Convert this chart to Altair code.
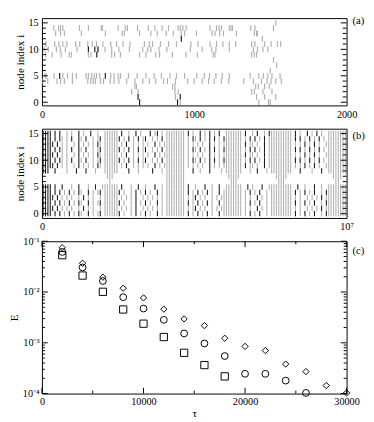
import altair as alt
import pandas as pd

# ---------------- panel (a): spike times (0..2000) per node index ----------------
A15 = [1535]
A14 = [78, 109, 122, 137, 246, 305, 389, 397, 500, 547, 561, 627, 698, 742, 789, 831, 894, 908,
       925, 946, 1104, 1146, 1163, 1178, 1230, 1241, 1251, 1371, 1398, 1520]
A13 = [90, 122, 147, 259, 416, 526, 540, 641, 715, 757, 816, 862, 915, 936, 1014, 1117, 1136,
       1167, 1192, 1277, 1394, 1409, 1415]
A12 = [915, 1447]
A11 = [27, 84, 111, 137, 164, 221, 248, 301, 330, 358, 400, 452, 490, 532, 578, 673, 705, 726,
       778, 831, 883, 978, 1024, 1104, 1146, 1188, 1230, 1272, 1377, 1398, 1462, 1504, 1546, 1567]
A10 = [15, 42, 95, 120, 154, 231, 305, 347, 368, 414, 458, 505, 574, 662, 694, 715, 768, 820,
       974, 1052, 1115, 1142, 1230, 1388, 1415, 1451, 1483]
A9 = [25, 67, 126, 179, 193, 305, 322, 360, 458, 477, 515, 641, 683, 747, 772, 856, 946, 1020,
      1125, 1136, 1377, 1394, 1409]
A8 = [1520]
A7 = [1541]
A6 = [1499]
A5 = [21, 27, 80, 116, 137, 168, 200, 225, 290, 305, 326, 343, 358, 379, 416, 452, 473, 500, 515,
      568, 625, 683, 736, 784, 841, 883, 936, 1016, 1066, 1100, 1142, 1184, 1230, 1367, 1424, 1453,
      1483, 1510, 1563]
A4 = [6, 38, 99, 122, 147, 200, 301, 320, 336, 351, 385, 404, 448, 473, 505, 557, 610, 662, 705,
      747, 799, 824, 877, 957, 999, 1052, 1094, 1131, 1178, 1226, 1325, 1388, 1441, 1478, 1504,
      1535, 1571]
A3 = [610, 620, 858, 873, 1403, 1420, 1462, 1493]
A2 = [589, 631, 873, 894, 1377, 1394, 1451, 1510]
A1 = [631, 877, 908, 1409, 1462, 1535]
A0 = [641, 890, 908, 1424, 1487, 1499]
A_DARK_NODE = [10, 10, 9, 10, 5, 5, 12, 0, 1, 0, 1]
A_DARK_TIME = [347, 368, 360, 305, 116, 416, 915, 641, 631, 890, 908]

# ---------------- panel (b): raster, 128 time bins over 0..1e7, rows node 15 -> 0 ----------------
# '.' = no spike, 'g' = grey spike, 'k' = black spike
B_ROWS = [
    "kkkk.k.k" "..g.g..k" ".g..k..g" "..gggggg" ".k..g..k" ".g...k.g" "k.g.gggg" "gggg.k.g"
    "..k.g.k." "g.k..ggg" "gggg.k.." "g.k..g.k" "gggggggg" "g.k.g..k" ".g.k.g.." "gggggggg",
    "kkkk.k.k" "g.g.k..k" "g.k..g.g" "k.gggggg" "k.g.k.g." "k.gk..g." "g.k.gggg" "gggg.g.k"
    "g.k.g.k." "k.g.kggg" "gggg.g.k" ".k.g.k.g" "gggggggg" "g.k.k.g." "k.g.k.g." "gggggggg",
    "kkkkk.k." "g.g..g.k" ".g.g.g.k" "g.gggggg" ".g.k..g." "g.g.g..k" ".g.ggggg" "gggg.g.g"
    ".g.g..k." "g.g.gggg" "gggg.k.g" "g.g..k.g" "gggggggg" "g.g.g.k." "g.k.g..g" "gggggggg",
    "kkkk.k.k" "g.g.k..k" "g.k..g.g" "k.gggggg" "k.g.k.g." "k.gk..g." "g.k.gggg" "gggg.g.k"
    "g.k.g.k." "k.g.kggg" "gggg.g.k" ".k.g.k.g" "gggggggg" "g.k.k.g." "k.g.k.g." "gggggggg",
    "kkkkk.k." "g.g..g.k" ".g.g.g.k" "g.gggggg" ".g.k..g." "g.g.g..k" ".g.ggggg" "gggg.g.g"
    ".g.g..k." "g.g.gggg" "gggg.k.g" "g.g..k.g" "gggggggg" "g.g.g.k." "g.k.g..g" "gggggggg",
    "kkkk.k.k" "g.g.k..k" "g.k..g.g" "k.gggggg" "k.g.k.g." "k.gk..g." "g.k.gggg" "gggg.g.k"
    "g.k.g.k." "k.g.kggg" "gggg.g.k" ".k.g.k.g" "gggggggg" "g.k.k.g." "k.g.k.g." "gggggggg",
    "kkkkk.k." "g.g..g.k" ".g.g.g.k" "g.gggggg" ".g.k..g." "g.g.g..k" ".g.ggggg" "gggg.g.g"
    ".g.g..k." "g.g.gggg" "gggg.k.g" "g.g..k.g" "gggggggg" "g.g.g.k." "g.k.g..g" "gggggggg",
    "kkk..k.." "..g...k." "..k...g." "..gggggg" "....k..." "g.....k." "..g.gggg" "gggg...k"
    "..g...k." "...g.ggg" "gggg...g" "..k...g." "gggggggg" "g...k..." ".g...k.." "gggggggg",
    "........" "........" "........" "...ggg.." "........" "........" "....gggg" "gggg...."
    "........" "......gg" "ggg....." "........" "..ggggg." "........" "........" "..gggg..",
    "........" "........" "........" "....g..." "........" "........" "....gggg" "gggg...."
    "........" ".......g" "gg......" "........" "...ggg.." "........" "........" "...gg...",
    "kkkk.k.." "k...g..k" "...g..k." ".ggggggg" ".k...g.." "k..g...k" "..g.gggg" "gggg.k.."
    "g...k..g" "..k..ggg" "gggg..k." "g...k..g" "gggggggg" "g..k..g." "..k..g.." "gggggggg",
    "kkkk.k.k" ".g.k.g.k" "g..k.g.g" "k.gggggg" "k.g..g.k" ".g.k.g.." "k.g.gggg" "gggg.k.g"
    ".k.g.k.g" "..k.gggg" "gggg.g.k" ".g.k..g." "gggggggg" "g.k.g.k." "g.k..g.k" "gggggggg",
    "kkkkk.k." "g.g.g..g" ".k.g.g.." "g.gggggg" ".g.g.g.k" "..g.g.g." "g.g.gggg" "gggg.g.g"
    "k.g.g..g" ".g.ggggg" "gggg.g.g" "..k.g.g." "gggggggg" "g.g.g..g" ".g.g.k.g" "gggggggg",
    "kkkk.k.k" ".g.k.g.k" "g..k.g.g" "k.gggggg" "k.g..g.k" ".g.k.g.." "k.g.gggg" "gggg.k.g"
    ".k.g.k.g" "..k.gggg" "gggg.g.k" ".g.k..g." "gggggggg" "g.k.g.k." "g.k..g.k" "gggggggg",
    "kkkkk.k." "g.g.g..g" ".k.g.g.." "g.gggggg" ".g.g.g.k" "..g.g.g." "g.g.gggg" "gggg.g.g"
    "k.g.g..g" ".g.ggggg" "gggg.g.g" "..k.g.g." "gggggggg" "g.g.g..g" ".g.g.k.g" "gggggggg",
    "kkkk.k.k" ".g.k.g.k" "g..k.g.g" "k.gggggg" "k.g..g.k" ".g.k.g.." "k.g.gggg" "gggg.k.g"
    ".k.g.k.g" "..k.gggg" "gggg.g.k" ".g.k..g." "gggggggg" "g.k.g.k." "g.k..g.k" "gggggggg",
]
B_TMAX = 1e7

# ---------------- panel (c): error E versus tau ----------------
TAU = [2000, 4000, 6000, 8000, 10000, 12000, 14000, 16000, 18000, 20000, 22000, 24000, 26000,
       28000, 30000]
E_DIAMOND = [0.0746, 0.0369, 0.0196, 0.0119, 0.00767, 0.00459, 0.00296, 0.00218, 0.00123,
             0.00085, 0.000703, 0.00038, 0.000271, 0.000144, 0.000103]
E_CIRCLE = [0.0616, 0.0305, 0.0165, 0.00791, 0.00473, 0.00283, 0.00153, 0.00097, 0.000548,
            0.000245, 0.000245, 0.00018, 0.000103]
E_SQUARE = [0.0532, 0.0211, 0.0101, 0.00453, 0.00238, 0.0013, 0.000635, 0.000364, 0.000218]

# ---------------- styling ----------------
FONT = "Liberation Serif"
W = 314
HA, HB, HC = 90, 92, 157
GREY = "#b0b0b0"
BLACK = "#1a1a1a"

a_nodes = {15: A15, 14: A14, 13: A13, 12: A12, 11: A11, 10: A10, 9: A9, 8: A8, 7: A7, 6: A6,
           5: A5, 4: A4, 3: A3, 2: A2, 1: A1, 0: A0}
dark = set(zip(A_DARK_NODE, A_DARK_TIME))
rows = []
for n, ts in a_nodes.items():
    for t in ts:
        rows.append({"t": t, "y0": n - 0.55, "y1": n + 0.55, "shade": "k" if (n, t) in dark else "g"})
df_a = pd.DataFrame(rows)

rows = []
for i, s in enumerate(B_ROWS):
    n = 15 - i
    N = len(s)
    for c, ch in enumerate(s):
        if ch in "gk":
            rows.append({"t": (c + 0.5) / N * B_TMAX, "y0": n - 0.5, "y1": n + 0.5, "shade": ch})
df_b = pd.DataFrame(rows)

df_c = pd.concat([
    pd.DataFrame({"tau": TAU[:len(E_DIAMOND)], "E": E_DIAMOND, "s": "d"}),
    pd.DataFrame({"tau": TAU[:len(E_CIRCLE)], "E": E_CIRCLE, "s": "c"}),
    pd.DataFrame({"tau": TAU[:len(E_SQUARE)], "E": E_SQUARE, "s": "q"}),
])

shade_scale = alt.Scale(domain=["g", "k"], range=[GREY, BLACK])


def ax(**kw):
    base = dict(domain=False, ticks=False, labelFont=FONT, titleFont=FONT, labelFontSize=10.5,
                titleFontSize=11.5, labelColor="black", titleColor="black",
                titleFontWeight="normal", labelFlush=False, labelOverlap=False, grid=False)
    base.update(kw)
    return alt.Axis(**base)


def yticks(values, L, yscale, yaxis):
    df = pd.DataFrame({"v": values})
    left = alt.Chart(df).mark_rule(color="black", strokeWidth=1).encode(
        y=alt.Y("v:Q", scale=yscale, axis=yaxis), x=alt.value(0), x2=alt.value(L))
    right = alt.Chart(df).mark_rule(color="black", strokeWidth=1).encode(
        y=alt.Y("v:Q", scale=yscale, axis=yaxis), x=alt.value(W - L), x2=alt.value(W))
    return [left, right]


def xticks(values, L, H, xscale, xaxis):
    df = pd.DataFrame({"v": values})
    bot = alt.Chart(df).mark_rule(color="black", strokeWidth=1).encode(
        x=alt.X("v:Q", scale=xscale, axis=xaxis), y=alt.value(H), y2=alt.value(H - L))
    top = alt.Chart(df).mark_rule(color="black", strokeWidth=1).encode(
        x=alt.X("v:Q", scale=xscale, axis=xaxis), y=alt.value(0), y2=alt.value(L))
    return [bot, top]


def panel_label(txt, y):
    return alt.Chart(pd.DataFrame({"s": [txt]})).mark_text(
        align="left", baseline="middle", font=FONT, fontSize=11, color="black").encode(
        text="s:N", x=alt.value(W + 6), y=alt.value(y))


node_major = [0, 5, 10, 15]
node_minor = [v for v in range(16) if v not in node_major]

# panel a
xa = alt.Scale(domain=[0, 2000], nice=False, zero=False)
ya = alt.Scale(domain=[-0.6, 15.9], nice=False, zero=False)
xa_axis = ax(values=[0, 1000, 2000], title=None, labelPadding=4, format="d")
ya_axis = ax(values=node_major, title="node index i", labelPadding=4, titlePadding=2, format="d")
spk_a = alt.Chart(df_a).mark_rule(strokeWidth=1.2).encode(
    x=alt.X("t:Q", scale=xa, axis=xa_axis),
    y=alt.Y("y0:Q", scale=ya, axis=ya_axis),
    y2="y1:Q",
    color=alt.Color("shade:N", scale=shade_scale, legend=None),
)
pa = alt.layer(spk_a, *yticks(node_major, 6, ya, ya_axis), *yticks(node_minor, 4, ya, ya_axis),
               panel_label("(a)", 3)).properties(width=W, height=HA)

# panel b
xb = alt.Scale(domain=[0, B_TMAX], nice=False, zero=False)
yb = alt.Scale(domain=[-0.8, 15.9], nice=False, zero=False)
xb_axis = ax(values=[0, B_TMAX], title=None, labelPadding=4,
             labelExpr="datum.value == 0 ? '0' : '10⁷'")
yb_axis = ax(values=node_major, title="node index i", labelPadding=4, titlePadding=2, format="d")
spk_b = alt.Chart(df_b).mark_rule(strokeWidth=1.1).encode(
    x=alt.X("t:Q", scale=xb, axis=xb_axis),
    y=alt.Y("y0:Q", scale=yb, axis=yb_axis),
    y2="y1:Q",
    color=alt.Color("shade:N", scale=shade_scale, legend=None),
)
pb = alt.layer(spk_b, *yticks(node_major, 6, yb, yb_axis), *yticks(node_minor, 4, yb, yb_axis),
               panel_label("(b)", 8)).properties(width=W, height=HB)

# panel c
xc = alt.Scale(domain=[0, 30000], nice=False, zero=False)
yc = alt.Scale(type="log", domain=[1e-4, 1e-1], nice=False)
xc_axis = ax(values=[0, 10000, 20000, 30000], title="τ", labelPadding=3, titlePadding=1, format="d")
yc_axis = ax(values=[1e-4, 1e-3, 1e-2, 1e-1], title="E", labelPadding=3, titlePadding=2,
             labelExpr="datum.value < 0.0005 ? '10⁻⁴' : datum.value < 0.005 ? '10⁻³' : datum.value < 0.05 ? '10⁻²' : '10⁻¹'")
pts = alt.Chart(df_c).mark_point(filled=False, color="black", strokeWidth=1, opacity=1).encode(
    x=alt.X("tau:Q", scale=xc, axis=xc_axis),
    y=alt.Y("E:Q", scale=yc, axis=yc_axis),
    shape=alt.Shape("s:N", scale=alt.Scale(domain=["d", "c", "q"], range=["diamond", "circle", "square"]), legend=None),
    size=alt.Size("s:N", scale=alt.Scale(domain=["d", "c", "q"], range=[42, 56, 32]), legend=None),
)
c_minor = [m * 10.0 ** e for e in (-4, -3, -2) for m in range(2, 10)]
pc = alt.layer(pts, *yticks([1e-4, 1e-3, 1e-2, 1e-1], 6, yc, yc_axis), *yticks(c_minor, 3, yc, yc_axis),
               *xticks([0, 10000, 20000, 30000], 6, HC, xc, xc_axis),
               *xticks([5000, 15000, 25000], 3, HC, xc, xc_axis),
               panel_label("(c)", 10)).properties(width=W, height=HC)

chart = alt.vconcat(pa, pb, pc, spacing=24, bounds="flush").properties(
    padding={"left": 0, "top": 0, "right": 0, "bottom": 0}
).configure_view(stroke="black", strokeWidth=1)

chart.save("out.html", embed_options={"renderer": "svg", "actions": False})
